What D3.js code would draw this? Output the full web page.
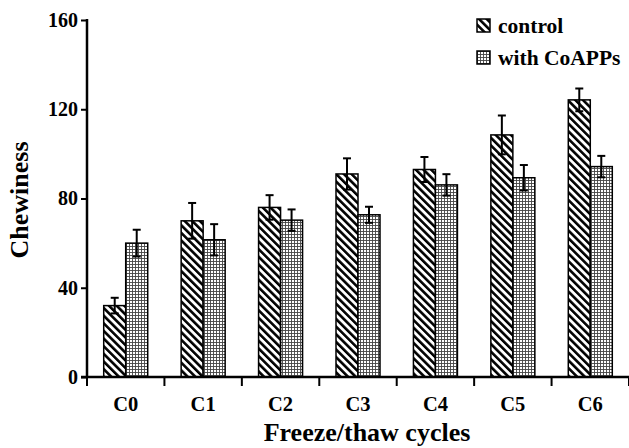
<!DOCTYPE html>
<html>
<head>
<script src="https://d3js.org/d3.v7.min.js"></script>
<style>
  html, body { margin: 0; padding: 0; background: white; }
  text { font-family: 'Liberation Serif', 'Times New Roman', serif; font-weight: bold; fill: black; }
</style>
</head>
<body>
<svg id="chart" width="629" height="448"></svg>
<script>
// DATA
const cycles = ['C0', 'C1', 'C2', 'C3', 'C4', 'C5', 'C6']
const control = [32, 70, 76, 91, 93, 108.5, 124.2]
const controlErr = [3.5, 8, 5.5, 7, 5.6, 8.7, 5.1]
const coapps = [60, 61.5, 70.3, 72.7, 86.1, 89.3, 94.3]
const coappsErr = [6, 7, 4.8, 3.6, 4.8, 5.7, 4.8]
const yTicks = [0, 40, 80, 120, 160]
const seriesNames = ['control', 'with CoAPPs']

const svg = d3.select('#chart')
const padL = 87, padR = 629, padT = 20, padB = 377

const x = d3.scaleBand().domain(cycles).range([padL, padR])
const y = d3.scaleLinear().domain([0, 160]).range([padB, padT])
const bw = 22

// PATTERNS
const defs = svg.append('defs')
const diag = defs.append('pattern')
    .attr('id', 'diag').attr('patternUnits', 'userSpaceOnUse')
    .attr('width', 5.4).attr('height', 5.4)
    .attr('patternTransform', 'rotate(-45)')
diag.append('rect').attr('width', 5.4).attr('height', 5.4).attr('fill', 'white')
diag.append('line').attr('x1', 1.3).attr('y1', 0).attr('x2', 1.3).attr('y2', 5.4)
    .attr('stroke', 'black').attr('stroke-width', 2.6)

const grid = defs.append('pattern')
    .attr('id', 'grid').attr('patternUnits', 'userSpaceOnUse')
    .attr('width', 3).attr('height', 3)
grid.append('rect').attr('width', 3).attr('height', 3).attr('fill', 'white')
grid.append('path').attr('d', 'M0,0.5H3M0.5,0V3')
    .attr('stroke', '#444').attr('stroke-width', 0.9).attr('fill', 'none')

const fills = ['url(#diag)', 'url(#grid)']
const series = [
    {vals: control, errs: controlErr},
    {vals: coapps, errs: coappsErr}
]

// BARS
series.forEach(function(s, si){
    const g = svg.append('g')
    cycles.forEach(function(c, i){
        const cx = x(c) + x.bandwidth()/2
        const x0 = cx - bw + si*bw
        g.append('rect')
            .attr('x', x0).attr('y', y(s.vals[i]))
            .attr('width', bw).attr('height', y(0) - y(s.vals[i]))
            .attr('fill', fills[si]).attr('stroke', 'black').attr('stroke-width', 1.5)
    })
})

// ERROR BARS
series.forEach(function(s, si){
    cycles.forEach(function(c, i){
        const cx = x(c) + x.bandwidth()/2 - bw/2 + si*bw
        const hi = y(s.vals[i] + s.errs[i]), lo = y(s.vals[i] - s.errs[i])
        svg.append('line').attr('x1', cx).attr('x2', cx).attr('y1', hi).attr('y2', lo)
            .attr('stroke', 'black').attr('stroke-width', 2)
        ;[hi, lo].forEach(function(yy){
            svg.append('line').attr('x1', cx-4).attr('x2', cx+4).attr('y1', yy).attr('y2', yy)
                .attr('stroke', 'black').attr('stroke-width', 2)
        })
    })
})

// AXES
const yAxis = svg.append('g').attr('transform', 'translate(' + padL + ',0)')
    .call(d3.axisLeft(y).tickValues(yTicks).tickSize(6).tickSizeOuter(0))
yAxis.select('.domain').attr('stroke-width', 2.5).attr('d', 'M0,' + (padT-1) + 'V' + padB)
yAxis.selectAll('.tick line').attr('stroke-width', 2)
yAxis.selectAll('.tick text').attr('font-size', 20).attr('x', -9).attr('font-family', 'Liberation Serif')

const xAxis = svg.append('g').attr('transform', 'translate(0,' + padB + ')')
xAxis.append('line').attr('x1', padL - 6).attr('x2', padR).attr('stroke', 'black').attr('stroke-width', 2.5)
xAxis.selectAll('.sep').data(cycles.concat(['end'])).enter().append('line')
    .attr('x1', function(d, i){ return padL + i*x.step() })
    .attr('x2', function(d, i){ return padL + i*x.step() })
    .attr('y1', 0).attr('y2', 9).attr('stroke', 'black').attr('stroke-width', 2)
xAxis.selectAll('.lbl').data(cycles).enter().append('text')
    .attr('x', function(d){ return x(d) + x.bandwidth()/2 })
    .attr('y', 34).attr('text-anchor', 'middle').attr('font-size', 20.5)
    .text(function(d){ return d })

svg.append('text').attr('x', 367).attr('y', 441).attr('text-anchor', 'middle')
    .attr('font-size', 26).text('Freeze/thaw cycles')
svg.append('text').attr('transform', 'translate(28,200) rotate(-90)')
    .attr('text-anchor', 'middle').attr('font-size', 26).text('Chewiness')

// LEGEND
const leg = svg.append('g')
seriesNames.forEach(function(n, i){
    const ly = 19 + i*32
    leg.append('rect').attr('x', 477).attr('y', ly).attr('width', 13).attr('height', 13)
        .attr('fill', fills[i]).attr('stroke', 'black').attr('stroke-width', 1.5)
    leg.append('text').attr('x', 498).attr('y', ly + 14)
        .attr('font-size', 21.5).text(n)
})
</script>
</body>
</html>
